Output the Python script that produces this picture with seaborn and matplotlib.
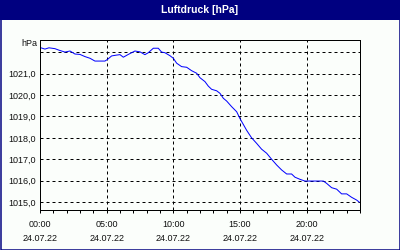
import matplotlib
matplotlib.use("Agg")
import matplotlib.pyplot as plt
from matplotlib.patches import Rectangle
from matplotlib.ticker import FixedLocator, MultipleLocator
import seaborn as sns
import pandas as pd

# --- data (hours since 24.07.22 00:00, pressure in hPa) ---
hours = [0.0, 0.07, 0.37, 0.67, 1.12, 1.42, 1.87, 2.25, 2.62, 3.0, 3.37, 3.75,
         4.12, 4.87, 5.07, 5.37, 5.75, 6.0, 6.25, 6.62, 7.12, 7.5, 7.87, 8.12,
         8.5, 8.87, 9.12, 9.37, 9.75, 10.0, 10.25, 10.62, 11.0, 11.37, 11.75,
         12.0, 12.37, 12.62, 12.87, 13.25, 13.5, 13.75, 14.0, 14.37, 14.75,
         15.0, 15.5, 15.87, 16.25, 16.62, 17.0, 17.37, 17.75, 18.12, 18.5,
         18.87, 19.12, 19.5, 19.87, 21.25, 21.5, 21.87, 22.25, 22.62, 23.0,
         23.37, 23.75, 23.95]
pressure = [1022.20, 1022.21, 1022.15, 1022.21, 1022.17, 1022.10, 1022.01,
            1022.06, 1021.92, 1021.90, 1021.80, 1021.72, 1021.59, 1021.59,
            1021.67, 1021.83, 1021.87, 1021.89, 1021.77, 1021.90, 1022.06,
            1022.02, 1021.89, 1021.98, 1022.19, 1022.19, 1022.01, 1021.98,
            1021.84, 1021.72, 1021.49, 1021.33, 1021.30, 1021.14, 1021.02,
            1020.81, 1020.63, 1020.42, 1020.27, 1020.20, 1020.08, 1019.85,
            1019.72, 1019.46, 1019.22, 1018.90, 1018.35, 1018.00, 1017.74,
            1017.47, 1017.28, 1017.00, 1016.73, 1016.50, 1016.31, 1016.31,
            1016.16, 1016.06, 1015.98, 1015.98, 1015.87, 1015.67, 1015.60,
            1015.38, 1015.38, 1015.22, 1015.09, 1014.99]

x_major = [0, 5, 10, 15, 20]
x_labels = ["00:00\n24.07.22", "05:00\n24.07.22", "10:00\n24.07.22",
            "15:00\n24.07.22", "20:00\n24.07.22"]
y_ticks = [1015, 1016, 1017, 1018, 1019, 1020, 1021, 1022]
y_labels = ["1015,0", "1016,0", "1017,0", "1018,0", "1019,0", "1020,0", "1021,0", ""]
title = "Luftdruck [hPa]"
unit = "hPa"

df = pd.DataFrame({"h": hours, "p": pressure})

sns.set_style("white")
plt.rcParams["font.family"] = ["Liberation Sans", "DejaVu Sans"]

BG = "#fbfefb"
NAVY = "#000080"
PX = 0.72  # points per pixel at dpi 100

fig = plt.figure(figsize=(4, 2.5), dpi=100, facecolor=BG)
ax = fig.add_axes([0.1, 0.16, 0.8, 0.68])
ax.set_facecolor(BG)

sns.lineplot(data=df, x="h", y="p", ax=ax, color="#0000ff", linewidth=1.0 * PX)

ax.set_xlim(0, 24)
ax.set_ylim(1014.626, 1022.575)
ax.set_xlabel("")
ax.set_ylabel("")

ax.xaxis.set_major_locator(FixedLocator(x_major))
ax.set_xticklabels(x_labels, fontsize=6.5, color="#101010", linespacing=1.75)
ax.xaxis.set_minor_locator(MultipleLocator(1))
ax.tick_params(axis="x", which="both", direction="out", length=3 * PX,
               width=1 * PX, color="black", pad=5, bottom=True)
ax.set_yticks(y_ticks)
ax.set_yticklabels(y_labels, fontsize=6.5, color="#101010")
ax.tick_params(axis="y", which="both", length=0, pad=4 * PX)

ax.grid(True, which="major", color="black", linewidth=1 * PX,
        linestyle=(0, (3, 3)))
ax.set_axisbelow(True)
for s in ax.spines.values():
    s.set_visible(True)
    s.set_color("black")
    s.set_linewidth(1 * PX)
    s.set_zorder(3)

# unit label above the axis
fig.text(37 / 400, 1 - 44 / 250, unit, ha="right", va="center",
         fontsize=6.5, color="#101010")

# title bar and frame
fig.patches.append(Rectangle((0, 1 - 20 / 250), 1, 20 / 250, transform=fig.transFigure,
                             facecolor=NAVY, edgecolor="none", zorder=0))
fig.patches.append(Rectangle((0.5 / 400, 0.5 / 250), 399 / 400, 249 / 250,
                             transform=fig.transFigure, facecolor="none",
                             edgecolor=NAVY, linewidth=1.5 * PX, zorder=5))
fig.text(0.5, 1 - 10 / 250, title, ha="center", va="center", color="white",
         fontsize=7.5, fontweight="bold")

fig.savefig("out.png", dpi=100, facecolor=BG)
